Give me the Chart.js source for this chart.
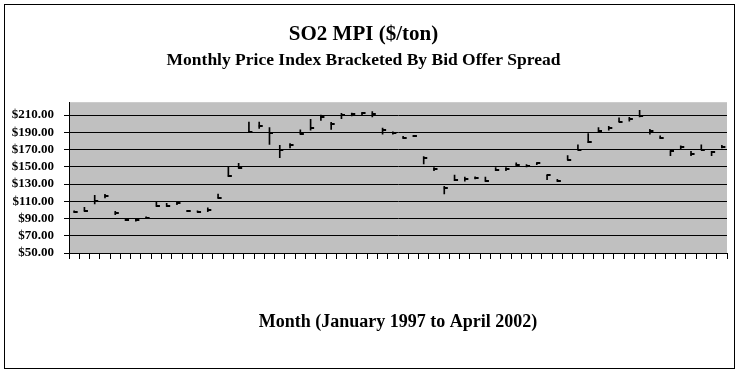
<!DOCTYPE html>
<html>
<head>
<meta charset="utf-8">
<script src="https://cdn.jsdelivr.net/npm/chart.js@4"></script>
<style>
  body { margin: 0; background: #fff; }
</style>
</head>
<body>
<canvas id="so2-chart" width="738" height="373"></canvas>
<script>
// months Jan 1997 .. Apr 2002
const months = [
    'Jan-97','Feb-97','Mar-97','Apr-97','May-97','Jun-97','Jul-97','Aug-97','Sep-97','Oct-97','Nov-97','Dec-97',
    'Jan-98','Feb-98','Mar-98','Apr-98','May-98','Jun-98','Jul-98','Aug-98','Sep-98','Oct-98','Nov-98','Dec-98',
    'Jan-99','Feb-99','Mar-99','Apr-99','May-99','Jun-99','Jul-99','Aug-99','Sep-99','Oct-99','Nov-99','Dec-99',
    'Jan-00','Feb-00','Mar-00','Apr-00','May-00','Jun-00','Jul-00','Aug-00','Sep-00','Oct-00','Nov-00','Dec-00',
    'Jan-01','Feb-01','Mar-01','Apr-01','May-01','Jun-01','Jul-01','Aug-01','Sep-01','Oct-01','Nov-01','Dec-01',
    'Jan-02','Feb-02','Mar-02','Apr-02'
];

// offer (high), bid (low), index (close)
const offer = [
    99, 103, 117, 118, 98.5, 90, 90, 92, 110, 107.5, 109, 99.5,
    99, 102.5, 118.5, 149.5, 154, 202, 202, 195.5, 175, 177, 193, 205,
    210, 201.5, 212, 212.5, 213, 214, 195, 190.5, 185.5, 186.5, 162, 149,
    127.5, 140.5, 138, 138.5, 138, 149, 149, 154.5, 152.5, 154.5, 140.5, 135.5,
    163, 175.5, 188.5, 195.5, 197, 207, 207.5, 215.5, 193.5, 186, 169, 174.5,
    168, 175.5, 168, 175
];
const bid = [
    97, 98.5, 107, 114, 94.5, 87.5, 87, 90, 104, 104, 106, 98,
    97.5, 98, 113.5, 139, 148.5, 189.5, 194.5, 176, 160.5, 172, 188, 192.5,
    204, 193.5, 206, 209, 210, 208, 188, 188, 183, 185, 153.5, 145.5,
    118.5, 134, 133.5, 136, 133, 145.5, 145.5, 151.5, 150, 152.5, 135, 133,
    158, 170, 178, 190.5, 192.5, 202.5, 203, 208, 188, 183, 163, 171,
    163, 170, 163, 172
];
const index = [
    97.5, 99, 110, 116, 96, 88, 88, 90.5, 104.5, 104.5, 107.5, 99,
    98, 100, 114, 139.5, 149, 190, 197, 189.5, 169, 175, 188.5, 195.5,
    208, 199.5, 210, 211, 212, 211, 192.5, 189, 184, 185.5, 160.5, 147,
    126, 134.5, 136, 137.5, 133.5, 146, 148, 152.5, 151, 154, 140, 134,
    158.5, 170, 178.5, 192, 195, 202.5, 205, 208.5, 191, 184, 168, 173,
    165, 170, 167, 173.5
];

const yTicks = [50, 70, 90, 110, 130, 150, 170, 190, 210];

// close tick drawn to the right of the high-low line
const closeMark = document.createElement("canvas");
closeMark.width = 9;
closeMark.height = 2;
const cm = closeMark.getContext("2d");
cm.fillStyle = "#000";
cm.fillRect(4, 0, 4, 2);

const backdrop = {
    id: "backdrop",
    beforeDraw(chart){
        const {ctx, chartArea} = chart;
        ctx.save();
        ctx.fillStyle = "#fff";
        ctx.fillRect(0, 0, chart.width, chart.height);
        ctx.fillStyle = "#c0c0c0";
        ctx.fillRect(chartArea.left, chartArea.top, chartArea.right - chartArea.left, chartArea.bottom - chartArea.top);
        ctx.strokeStyle = "#000";
        ctx.lineWidth = 1;
        ctx.strokeRect(4.5, 4.5, 730, 364);
        ctx.restore();
    }
};

Chart.defaults.font.family = "'Liberation Serif', 'Times New Roman', serif";
Chart.defaults.font.weight = "bold";
Chart.defaults.color = "#000";

const chart = document.querySelector("#so2-chart").getContext("2d");

new Chart(chart, {
    type: "bar",
    data: {
        labels: months,
        datasets: [
            {
                label: "Bid-Offer",
                data: offer.map((h, i) => [bid[i], h]),
                backgroundColor: "#000",
                borderWidth: 0,
                barThickness: 1,
                order: 2
            },
            {
                type: "line",
                label: "Index",
                data: index,
                showLine: false,
                pointStyle: closeMark,
                pointRadius: 4,
                order: 1
            }
        ]
    },
    options: {
        responsive: false,
        animation: false,
        layout: { padding: { left: 0, right: 11, top: 22, bottom: 40 } },
        plugins: {
            legend: { display: false },
            tooltip: { enabled: false },
            title: {
                display: true,
                text: "SO2 MPI ($/ton)",
                font: { size: 21, weight: "bold" },
                padding: { top: 0, bottom: 0 }
            },
            subtitle: {
                display: true,
                text: "Monthly Price Index Bracketed By Bid Offer Spread",
                color: "#000",
                font: { size: 17.5, weight: "bold" },
                padding: { top: 3, bottom: 31 }
            }
        },
        scales: {
            x: {
                offset: true,
                grid: {
                    offset: true,
                    drawOnChartArea: false,
                    drawTicks: true,
                    tickLength: 6,
                    color: "#000"
                },
                border: { color: "#000" },
                ticks: { autoSkip: false, maxRotation: 0, callback: () => "" },
                title: {
                    display: true,
                    text: "Month (January 1997 to April 2002)",
                    font: { size: 18, weight: "bold" },
                    padding: 0
                },
                afterFit: (scale) => { scale.height = 80; }
            },
            y: {
                min: 50,
                max: 225,
                afterBuildTicks: (scale) => { scale.ticks = yTicks.map(v => ({ value: v })); },
                grid: { color: "#000", tickLength: 5 },
                border: { color: "#000" },
                ticks: {
                    padding: 10,
                    font: { size: 13, weight: "bold" },
                    callback: (v) => "$" + Number(v).toFixed(2)
                },
                afterFit: (scale) => { scale.width = 69; }
            }
        }
    },
    plugins: [backdrop]
});
</script>
</body>
</html>
